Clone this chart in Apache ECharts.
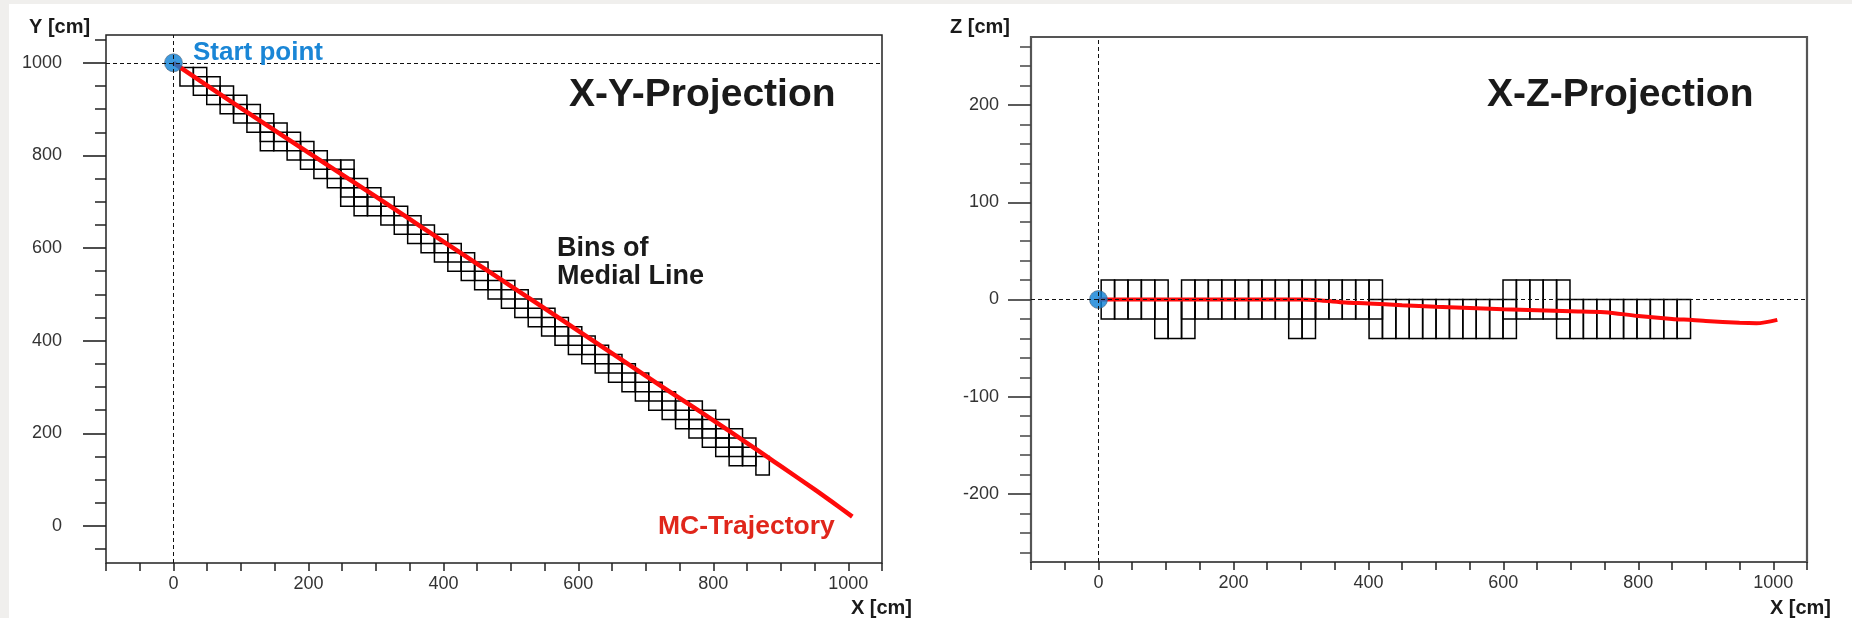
<!DOCTYPE html>
<html>
<head>
<meta charset="utf-8">
<script src="https://cdn.jsdelivr.net/npm/echarts@6/dist/echarts.min.js"></script>
<style>
  html, body { margin: 0; padding: 0; background: #ffffff; }
  #chart { width: 1852px; height: 618px; }
</style>
</head>
<body>
<div id="chart"></div>
<script>
// ---- axis ranges and tick values (cm) ----
const xRange = [-100, 1050];
const yRange = [-80, 1060];
const zRange = [-270, 270];

const xTicks = [-100, -50, 0, 50, 100, 150, 200, 250, 300, 350, 400, 450, 500, 550, 600, 650, 700, 750, 800, 850, 900, 950, 1000, 1050];
const xLabels = [0, 200, 400, 600, 800, 1000];
const yMajorTicks = [0, 200, 400, 600, 800, 1000];
const yMinorTicks = [-50, 50, 100, 150, 250, 300, 350, 450, 500, 550, 650, 700, 750, 850, 900, 950, 1050];
const zMajorTicks = [-200, -100, 0, 100, 200];
const zMinorTicks = [-260, -240, -220, -180, -160, -140, -120, -80, -60, -40, -20, 20, 40, 60, 80, 120, 140, 160, 180, 220, 240, 260];

// ---- start point of the track ----
const startX = 0, startY = 1000, startZ = 0;

// ---- MC trajectory samples ----
const trajX = [0, 100, 200, 300, 330, 366, 400, 450, 500, 600, 700, 750, 800, 850, 880, 900, 950, 975, 1006];
const trajY = [1000, 902, 806, 711, 682, 647, 614, 566, 518, 421, 324, 276, 228, 179, 149, 129, 79, 53, 20];
const trajZ = [0, 0, 0, 0, -1, -3, -4, -6, -7.5, -10, -12, -13, -17, -20, -21, -22, -24, -24.5, -21];

// ---- medial line bins: boxes one column wide in x, 40 cm tall in y / z ----
const binWidth = 19.85;
const binHeight = 40;
const rowStep = 20;
const xyBinX0 = 9.6;    // x edge of first column, X-Y view
const xyBinY0 = 990;    // upper y edge of row 0, X-Y view
const xzBinX0 = 4;      // x edge of first column, X-Z view
// X-Y: starting rows (counted downward from xyBinY0) of the boxes in each x column
const xyBoxRows = [
  [0], [0, 1], [1, 2], [2, 3], [3, 4], [4, 5], [5, 6, 7], [6, 7], [7, 8], [8, 9],
  [9, 10], [10, 11], [10, 11, 12, 13], [12, 13, 14], [13, 14], [14, 15], [15, 16], [16, 17], [17, 18], [18, 19],
  [19, 20], [20, 21], [21, 22], [22, 23], [23, 24], [24, 25], [25, 26], [26, 27], [27, 28], [28, 29],
  [29, 30], [30, 31], [31, 32], [32, 33], [33, 34], [34, 35], [35, 36], [36, 37], [36, 37, 38], [37, 38, 39],
  [38, 39, 40], [39, 40, 41], [40, 41], [42]
];
// X-Z: lower z edges (cm) of the boxes in each x column
const xzBoxLows = [
  [-20], [-20], [-20], [-20], [-40, -20], [-40], [-40, -20], [-20], [-20], [-20],
  [-20], [-20], [-20], [-20], [-40, -20], [-40, -20], [-20], [-20], [-20], [-20],
  [-40, -20], [-40], [-40], [-40], [-40], [-40], [-40], [-40], [-40], [-40],
  [-40, -20], [-20], [-20], [-20], [-40, -20], [-40], [-40], [-40], [-40], [-40],
  [-40], [-40], [-40], [-40]
];

// ---- build box rectangles [x0, x1, v0, v1] ----
const xyCells = [];
xyBoxRows.forEach((rows, k) => rows.forEach(r => {
  const x0 = xyBinX0 + k * binWidth;
  const top = xyBinY0 - r * rowStep;
  xyCells.push([x0, x0 + binWidth, top - binHeight, top]);
}));
const xzCells = [];
xzBoxLows.forEach((lows, k) => lows.forEach(lo => {
  const x0 = xzBinX0 + k * binWidth;
  xzCells.push([x0, x0 + binWidth, lo, lo + binHeight]);
}));

const FONT = "'Liberation Sans', Arial, Helvetica, sans-serif";
const INK = '#1a1a1a';
const plain = v => String(v);

function renderCell(params, api) {
  const a = api.coord([api.value(0), api.value(3)]);
  const b = api.coord([api.value(1), api.value(2)]);
  return {
    type: 'rect',
    shape: { x: a[0], y: a[1], width: b[0] - a[0], height: b[1] - a[1] },
    style: { fill: 'none', stroke: '#000', lineWidth: 1.5 }
  };
}

function xAxisFor(gridIndex) {
  return {
    gridIndex, type: 'value', position: 'bottom', min: xRange[0], max: xRange[1],
    axisLine: { show: false, onZero: false },
    splitLine: { show: false },
    axisTick: { show: true, inside: false, customValues: xTicks, length: 8, lineStyle: { color: '#222', width: 1.5 } },
    axisLabel: { customValues: xLabels, formatter: plain, margin: 12, fontSize: 18, color: '#333', fontFamily: FONT }
  };
}

function majorAxis(gridIndex, range, ticks, margin, tickColor) {
  return {
    gridIndex, type: 'value', position: 'left', min: range[0], max: range[1],
    axisLine: { show: false, onZero: false },
    splitLine: { show: false },
    axisTick: { show: true, inside: false, customValues: ticks, length: 23, lineStyle: { color: tickColor, width: 1.6 } },
    axisLabel: { customValues: ticks, formatter: plain, margin, fontSize: 18, color: '#333', fontFamily: FONT }
  };
}

function minorAxis(gridIndex, range, ticks, tickColor) {
  return {
    gridIndex, type: 'value', position: 'left', offset: 0, min: range[0], max: range[1],
    axisLine: { show: false, onZero: false },
    splitLine: { show: false },
    axisLabel: { show: false },
    axisTick: { show: true, inside: false, customValues: ticks, length: 11, lineStyle: { color: tickColor, width: 1.5 } }
  };
}

const dashed = { color: '#111', width: 1, type: [4, 3] };

function text(str, x, y, size, color, align) {
  return {
    type: 'text', x, y, z: 100,
    style: {
      text: str, fill: color, font: `bold ${size}px ${FONT}`,
      align: align || 'left', verticalAlign: 'middle'
    }
  };
}

const chart = echarts.init(document.getElementById('chart'), null, { renderer: 'canvas' });

chart.setOption({
  animation: false,
  backgroundColor: '#ffffff',
  grid: [
    { left: 106, top: 35, width: 776, height: 528, show: true, borderColor: '#222', borderWidth: 1.5, backgroundColor: '#fff' },
    { left: 1031, top: 37, width: 776, height: 525, show: true, borderColor: '#555', borderWidth: 2.2, backgroundColor: '#fff' }
  ],
  xAxis: [xAxisFor(0), xAxisFor(1)],
  yAxis: [
    majorAxis(0, yRange, yMajorTicks, 44, '#222'),
    minorAxis(0, yRange, yMinorTicks, '#222'),
    majorAxis(1, zRange, zMajorTicks, 32, '#333'),
    minorAxis(1, zRange, zMinorTicks, '#444')
  ],
  graphic: [
    { type: 'rect', shape: { x: 0, y: 0, width: 9, height: 618 }, style: { fill: '#f0efed' }, z: 0 },
    { type: 'rect', shape: { x: 0, y: 0, width: 1852, height: 4 }, style: { fill: '#f0efed' }, z: 0 },
    text('Y [cm]', 29, 27, 20, INK),
    text('Z [cm]', 950, 27, 20, INK),
    text('X [cm]', 912, 608, 20, INK, 'right'),
    text('X [cm]', 1831, 608, 20, INK, 'right'),
    text('X-Y-Projection', 569, 95, 39, INK),
    text('X-Z-Projection', 1487, 95, 39, INK),
    text('Start point', 193, 53, 26, '#1a86d6'),
    text('Bins of', 557, 249, 27, INK),
    text('Medial Line', 557, 277, 27, INK),
    text('MC-Trajectory', 658, 527, 26.5, '#e0261b')
  ],
  series: [
    {
      type: 'custom', name: 'xy bins', xAxisIndex: 0, yAxisIndex: 0,
      renderItem: renderCell, data: xyCells, encode: { x: [0, 1], y: [2, 3] }, z: 2
    },
    {
      type: 'line', name: 'xy trajectory', xAxisIndex: 0, yAxisIndex: 0,
      data: trajX.map((x, i) => [x, trajY[i]]),
      showSymbol: false, smooth: 0.3,
      lineStyle: { color: '#ff0a0a', width: 4.5 }, z: 3,
      markLine: {
        silent: true, symbol: ['none', 'none'], label: { show: false },
        lineStyle: dashed,
        data: [{ xAxis: startX }, { yAxis: startY }]
      }
    },
    {
      type: 'scatter', name: 'xy start', xAxisIndex: 0, yAxisIndex: 0,
      data: [[startX, startY]], symbolSize: 18,
      itemStyle: { color: '#0b7fd6', borderColor: 'rgba(70,90,110,0.7)', borderWidth: 1 }, z: 4
    },
    {
      type: 'custom', name: 'xz bins', xAxisIndex: 1, yAxisIndex: 2,
      renderItem: renderCell, data: xzCells, encode: { x: [0, 1], y: [2, 3] }, z: 2
    },
    {
      type: 'line', name: 'xz trajectory', xAxisIndex: 1, yAxisIndex: 2,
      data: trajX.map((x, i) => [x, trajZ[i]]),
      showSymbol: false, smooth: 0.3,
      lineStyle: { color: '#ff0a0a', width: 4 }, z: 3,
      markLine: {
        silent: true, symbol: ['none', 'none'], label: { show: false },
        lineStyle: dashed,
        data: [{ xAxis: startX }, { yAxis: startZ }]
      }
    },
    {
      type: 'scatter', name: 'xz start', xAxisIndex: 1, yAxisIndex: 2,
      data: [[startX, startZ]], symbolSize: 18,
      itemStyle: { color: '#0b7fd6', borderColor: 'rgba(70,90,110,0.7)', borderWidth: 1 }, z: 4
    }
  ]
});
</script>
</body>
</html>
